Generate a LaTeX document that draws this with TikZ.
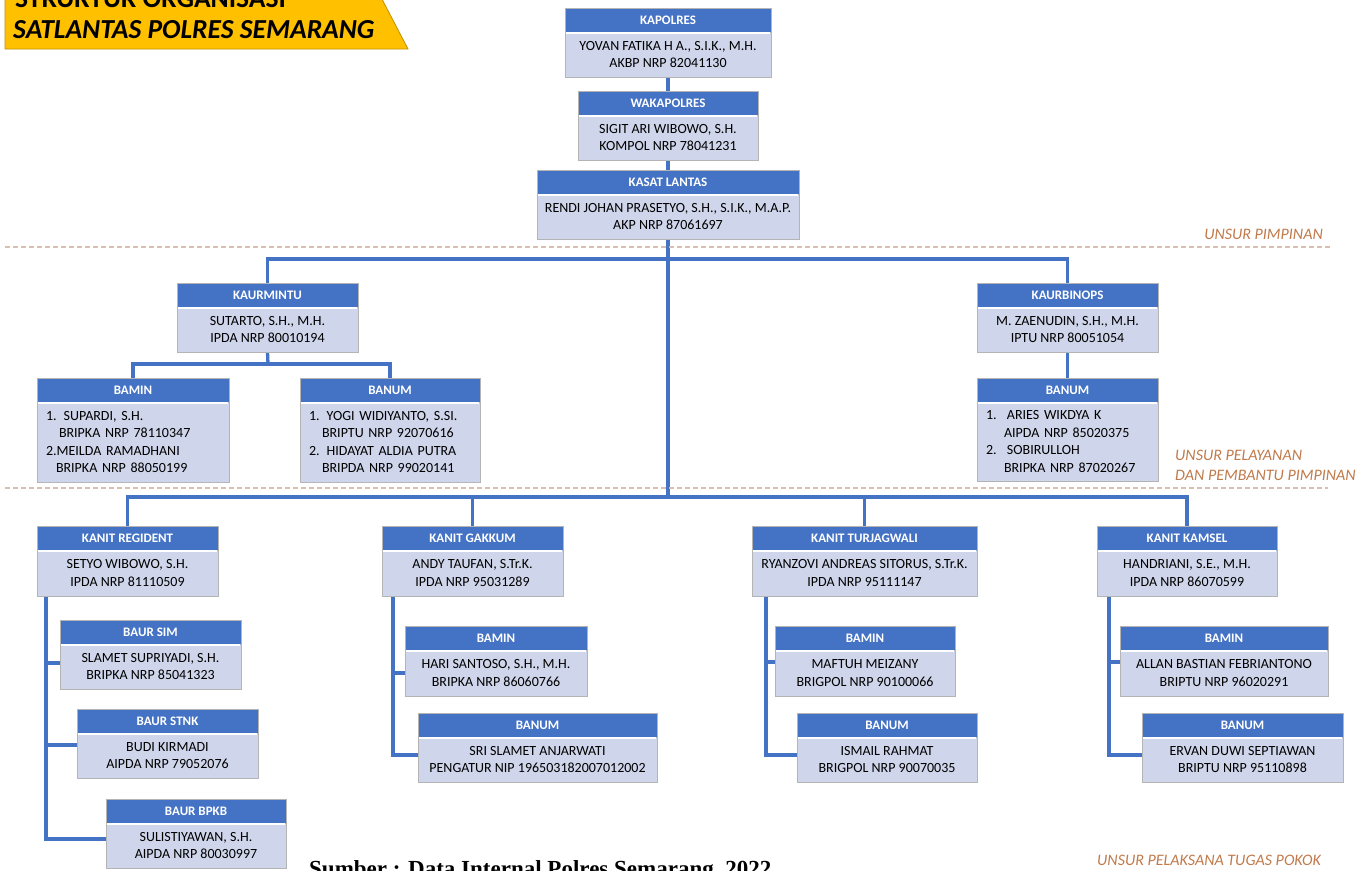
\documentclass[tikz,border=0pt]{standalone}
\usepackage{fontspec}
\setmainfont{Carlito}
\newfontfamily\capfont{Liberation Serif}
\usetikzlibrary{calc,backgrounds}
\definecolor{hdrblue}{HTML}{4472C4}
\definecolor{bodyblue}{HTML}{CFD5EA}
\definecolor{boxline}{HTML}{B4B4B4}
\definecolor{gold}{HTML}{FFC000}
\definecolor{golddark}{HTML}{BF9000}
\definecolor{unsur}{HTML}{C07A4B}
\definecolor{dashtan}{HTML}{D9BFAF}
\tikzset{
  hdr/.style={draw=boxline, line width=0.8pt, fill=hdrblue, text=white,
    font=\fontsize{13}{15}\selectfont\bfseries, inner sep=0pt, outer sep=0pt},
  bdy/.style={draw=boxline, line width=0.8pt, fill=bodyblue, text=black,
    font=\fontsize{14}{17.5}\selectfont, inner sep=0pt, outer sep=0pt, align=center},
  lst/.style={align=left, inner xsep=9pt},
  link/.style={draw=hdrblue, line width=3.3pt},
  sepline/.style={draw=dashtan, line width=1.4pt, dash pattern=on 5pt off 3pt},
  unsurlbl/.style={text=unsur, font=\fontsize{16}{20}\selectfont\itshape, inner sep=0pt},
}
% name, left, top, right, header bottom, bottom, title, body, body options
\newcommand\orgbox[9]{%
  \node[hdr, anchor=north west, minimum width={#4-#2}, minimum height={#5-#3}] (#1h) at (#2,#3) {#7};
  \node[bdy, anchor=north west, minimum width={#4-#2}, minimum height={#6-#5}, #9] (#1) at (#2,#5) {#8};
  \draw[white, line width=1.2pt] ([xshift=0.8pt,yshift=-1pt]#1.north west) -- ([xshift=-0.8pt,yshift=-1pt]#1.north east);
}
\begin{document}
\begin{tikzpicture}[x=1pt,y=-1pt]
\useasboundingbox (0,0) rectangle (1370,870);

% title banner
\fill[gold, draw=golddark, line width=0.8pt] (5,-20) -- (372,-20) -- (408,49) -- (5,49) -- cycle;
\node[anchor=base west, inner sep=0pt, font=\fontsize{27.5}{33}\selectfont\bfseries] (title1) at (15,8) {STRUKTUR ORGANISASI};
\node[anchor=base west, inner sep=0pt, font=\fontsize{27.5}{33}\selectfont\bfseries\itshape] (title2) at (13,38) {SATLANTAS POLRES SEMARANG};

% separators and labels
\draw[sepline] (5,247) -- (1330,247);
\draw[sepline] (5,488) -- (1328,488);
\node[unsurlbl, anchor=east] (u1) at (1323,234) {UNSUR PIMPINAN};
\node[unsurlbl, anchor=west, align=left] (u2) at (1175,465) {UNSUR PELAYANAN\\DAN PEMBANTU PIMPINAN};
\node[unsurlbl, anchor=west] (u3) at (1097,860) {UNSUR PELAKSANA TUGAS POKOK};

% leadership
\orgbox{kapolres}{565}{8}{771}{32}{77}{KAPOLRES}{YOVAN FATIKA H A., S.I.K., M.H.\\AKBP NRP 82041130}{}
\orgbox{wakapolres}{578}{91}{758}{115}{160}{WAKAPOLRES}{SIGIT ARI WIBOWO, S.H.\\KOMPOL NRP 78041231}{}
\orgbox{kasat}{537}{170}{799}{194}{239}{KASAT LANTAS}{RENDI JOHAN PRASETYO, S.H., S.I.K., M.A.P.\\AKP NRP 87061697}{}

% support
\orgbox{kaurmintu}{177}{283}{358}{307}{352}{KAURMINTU}{SUTARTO, S.H., M.H.\\IPDA NRP 80010194}{}
\orgbox{baminA}{37}{378}{229}{402}{482}{BAMIN}{1. SUPARDI, S.H.\\\hspace*{13pt}BRIPKA NRP 78110347\\2.MEILDA RAMADHANI\\\hspace*{10pt}BRIPKA NRP 88050199}{lst, text width=174pt}
\orgbox{banumA}{300}{378}{480}{402}{482}{BANUM}{1. YOGI WIDIYANTO, S.SI.\\\hspace*{13pt}BRIPTU NRP 92070616\\2. HIDAYAT ALDIA PUTRA\\\hspace*{13pt}BRIPDA NRP 99020141}{lst, text width=162pt}
\orgbox{kaurbinops}{977}{283}{1158}{307}{352}{KAURBINOPS}{M. ZAENUDIN, S.H., M.H.\\IPTU NRP 80051054}{}
\orgbox{banumB}{977}{378}{1158}{402}{481}{BANUM}{\makebox[21pt][l]{1.}ARIES WIKDYA K\\\hspace*{18pt}AIPDA NRP 85020375\\\makebox[21pt][l]{2.}SOBIRULLOH\\\hspace*{18pt}BRIPKA NRP 87020267}{lst, text width=163pt}

% units
\orgbox{regident}{37}{526}{218}{550}{596}{KANIT REGIDENT}{SETYO WIBOWO, S.H.\\IPDA NRP 81110509}{}
\orgbox{baursim}{60}{620}{241}{644}{689}{BAUR SIM}{SLAMET SUPRIYADI, S.H.\\BRIPKA NRP 85041323}{}
\orgbox{baurstnk}{77}{709}{258}{733}{778}{BAUR STNK}{BUDI KIRMADI\\AIPDA NRP 79052076}{}
\orgbox{baurbpkb}{106}{799}{286}{823}{868}{BAUR BPKB}{SULISTIYAWAN, S.H.\\AIPDA NRP 80030997}{}

\orgbox{gakkum}{382}{526}{563}{550}{596}{KANIT GAKKUM}{ANDY TAUFAN, S.Tr.K.\\IPDA NRP 95031289}{}
\orgbox{gbamin}{405}{626}{587}{650}{696}{BAMIN}{HARI SANTOSO, S.H., M.H.\\BRIPKA NRP 86060766}{}
\orgbox{gbanum}{418}{713}{657}{737}{782}{BANUM}{SRI SLAMET ANJARWATI\\PENGATUR NIP 196503182007012002}{}

\orgbox{turj}{752}{526}{977}{550}{596}{KANIT TURJAGWALI}{RYANZOVI ANDREAS SITORUS, S.Tr.K.\\IPDA NRP 95111147}{}
\orgbox{tbamin}{775}{626}{955}{650}{696}{BAMIN}{MAFTUH MEIZANY\\BRIGPOL NRP 90100066}{}
\orgbox{tbanum}{797}{713}{977}{737}{782}{BANUM}{ISMAIL RAHMAT\\BRIGPOL NRP 90070035}{}

\orgbox{kamsel}{1097}{526}{1277}{550}{596}{KANIT KAMSEL}{HANDRIANI, S.E., M.H.\\IPDA NRP 86070599}{}
\orgbox{kbamin}{1120}{626}{1328}{650}{696}{BAMIN}{ALLAN BASTIAN FEBRIANTONO\\BRIPTU NRP 96020291}{}
\orgbox{kbanum}{1142}{713}{1343}{737}{782}{BANUM}{ERVAN DUWI SEPTIAWAN\\BRIPTU NRP 95110898}{}

% source caption
\node[anchor=base west, inner sep=0pt, font=\capfont\fontsize{23}{27}\selectfont\bfseries] (src) at (309,876) {Sumber : Data Internal Polres Semarang, 2022};

% connectors
\begin{pgfonlayer}{background}
\coordinate (j1) at (668,259);
\coordinate (j2) at (668,497);
\coordinate (j3) at (268,364);
\draw[link] (kapolres.south) -- (wakapolresh.north);
\draw[link] (wakapolres.south) -- (kasath.north);
\draw[link] (kasat.south) -- (j2);
\draw[link] (kaurmintuh.north) -- (kaurmintuh.north |- j1) -- (kaurbinopsh.north |- j1) -- (kaurbinopsh.north);
\draw[link] (kaurmintu.south) -- (j3);
\draw[link] (baminAh.north) |- (j3) -| (banumAh.north);
\draw[link] (kaurbinops.south) -- (banumBh.north);
\draw[link] (regidenth.north) |- (j2) -| (kamselh.north);
\draw[link] (gakkumh.north) -- (gakkumh.north |- j2);
\draw[link] (turjh.north) -- (turjh.north |- j2);

\coordinate (r0) at ($(regident.south west)+(9,0)$);
\draw[link] (r0) |- (baurbpkb.west |- 0,839);
\draw[link] (r0 |- 0,663) -- (baursim.west |- 0,663);
\draw[link] (r0 |- 0,745) -- (baurstnk.west |- 0,745);

\coordinate (g0) at ($(gakkum.south west)+(11,0)$);
\draw[link] (g0) |- (gbanum.west |- 0,755);
\draw[link] (g0 |- 0,673) -- (gbamin.west |- 0,673);

\coordinate (t0) at ($(turj.south west)+(14,0)$);
\draw[link] (t0) |- (tbanum.west |- 0,755);
\draw[link] (t0 |- 0,662) -- (tbamin.west |- 0,662);

\coordinate (k0) at ($(kamsel.south west)+(12,0)$);
\draw[link] (k0) |- (kbanum.west |- 0,755);
\draw[link] (k0 |- 0,662) -- (kbamin.west |- 0,662);
\end{pgfonlayer}
\end{tikzpicture}
\end{document}
